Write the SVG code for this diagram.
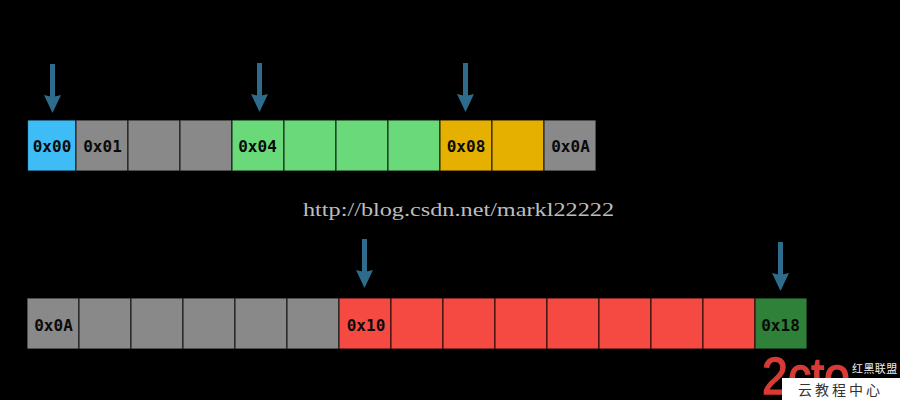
<svg xmlns="http://www.w3.org/2000/svg" width="900" height="400" viewBox="0 0 900 400">
<style>
.c{stroke:#000;stroke-opacity:.72;stroke-width:1.2}
.g{fill:#898989}.b{fill:#3dbcf6}.n{fill:#69d97a}.a{fill:#e6b000}.r{fill:#f54a42}.d{fill:#2f8038}
.t{font-family:"DejaVu Sans Mono","Liberation Mono",monospace;font-weight:700;font-size:16px;fill:#0a0a0a;text-anchor:middle}
.u{font-family:"Liberation Serif","DejaVu Serif",serif;font-size:19px;fill:#bdbdbd}
.s{stroke:#2f6c8c;stroke-width:5;fill:none}
.h{fill:#2f6c8c}
</style>
<rect width="900" height="400" fill="#000"/>
<g id="row1">
<g id="c00"><rect class="c b" x="27.500" y="120" width="48.500" height="51"/><text class="t" x="52" y="152">0x00</text></g>
<g id="c01"><rect class="c g" x="76" y="120" width="52" height="51"/><text class="t" x="102.500" y="152">0x01</text></g>
<g id="c02"><rect class="c g" x="128" y="120" width="52" height="51"/></g>
<g id="c03"><rect class="c g" x="180" y="120" width="52" height="51"/></g>
<g id="c04"><rect class="c n" x="232" y="120" width="52" height="51"/><text class="t" x="257.500" y="152">0x04</text></g>
<g id="c05"><rect class="c n" x="284" y="120" width="52" height="51"/></g>
<g id="c06"><rect class="c n" x="336" y="120" width="52" height="51"/></g>
<g id="c07"><rect class="c n" x="388" y="120" width="52" height="51"/></g>
<g id="c08"><rect class="c a" x="440" y="120" width="52" height="51"/><text class="t" x="466" y="152">0x08</text></g>
<g id="c09"><rect class="c a" x="492" y="120" width="52" height="51"/></g>
<g id="c0a"><rect class="c g" x="544" y="120" width="52" height="51"/><text class="t" x="570.500" y="152">0x0A</text></g>
</g>
<g id="row2">
<g id="d0a"><rect class="c g" x="27" y="298" width="52" height="51"/><text class="t" x="53.500" y="331">0x0A</text></g>
<g id="d1"><rect class="c g" x="79" y="298" width="52" height="51"/></g>
<g id="d2"><rect class="c g" x="131" y="298" width="52" height="51"/></g>
<g id="d3"><rect class="c g" x="183" y="298" width="52" height="51"/></g>
<g id="d4"><rect class="c g" x="235" y="298" width="52" height="51"/></g>
<g id="d5"><rect class="c g" x="287" y="298" width="52" height="51"/></g>
<g id="d10"><rect class="c r" x="339" y="298" width="52" height="51"/><text class="t" x="366" y="331">0x10</text></g>
<g id="d11"><rect class="c r" x="391" y="298" width="52" height="51"/></g>
<g id="d12"><rect class="c r" x="443" y="298" width="52" height="51"/></g>
<g id="d13"><rect class="c r" x="495" y="298" width="52" height="51"/></g>
<g id="d14"><rect class="c r" x="547" y="298" width="52" height="51"/></g>
<g id="d15"><rect class="c r" x="599" y="298" width="52" height="51"/></g>
<g id="d16"><rect class="c r" x="651" y="298" width="52" height="51"/></g>
<g id="d17"><rect class="c r" x="703" y="298" width="52" height="51"/></g>
<g id="d18"><rect class="c d" x="755" y="298" width="52" height="51"/><text class="t" x="780.500" y="331">0x18</text></g>
</g>
<g id="connectors">
<path class="s" d="M52.500 64V97"/><path class="h" d="M44 95L52.500 97L61 95L52.500 113Z"/>
<path class="s" d="M259.500 63V96"/><path class="h" d="M251 94L259.500 96L268 94L259.500 112Z"/>
<path class="s" d="M465.500 63V96"/><path class="h" d="M457 94L465.500 96L474 94L465.500 112Z"/>
<path class="s" d="M364.500 239V272"/><path class="h" d="M356 270L364.500 272L373 270L364.500 288Z"/>
<path class="s" d="M780.500 242V275"/><path class="h" d="M772 273L780.500 275L789 273L780.500 291Z"/>
</g>
<text class="u" x="303" y="216" textLength="311" lengthAdjust="spacingAndGlyphs">http://blog.csdn.net/markl22222</text>
<g id="logo">
<text x="762" y="394" font-family="Liberation Sans,sans-serif" font-size="51" fill="#d93a35" stroke="#d93a35" stroke-width="1.400" textLength="88" lengthAdjust="spacingAndGlyphs">2cto</text>
<text x="852" y="373" font-family="Noto Sans CJK SC,sans-serif" font-size="11" letter-spacing=".4" fill="#eee">红黑联盟</text>
<rect x="782" y="378" width="118" height="22" fill="#fff"/>
<text x="798" y="395" font-family="Noto Sans CJK SC,sans-serif" font-size="14" letter-spacing="3" fill="#333">云教程中心</text>
</g>
</svg>
